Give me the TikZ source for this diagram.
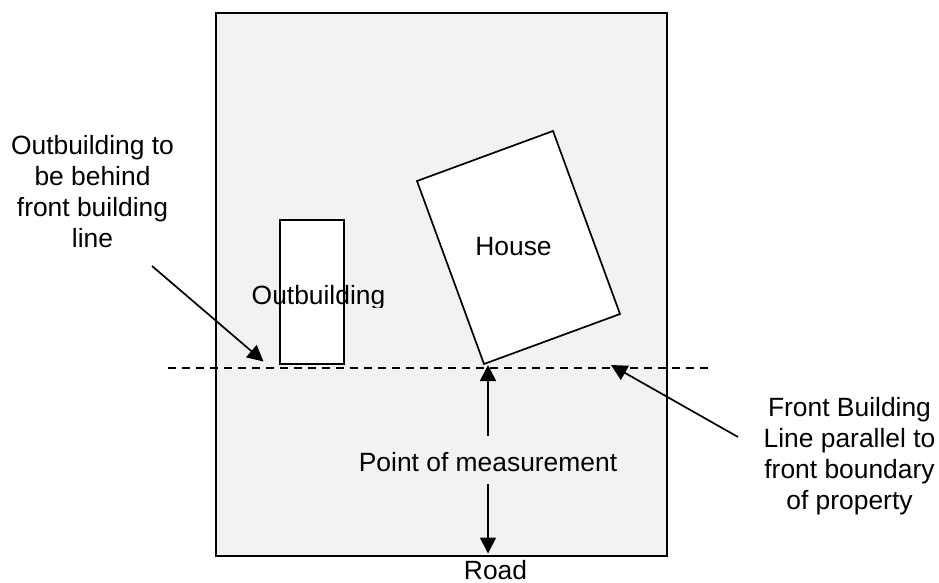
\documentclass[tikz,border=0pt]{standalone}
\usepackage{fontspec}
\setmainfont{Liberation Sans}
\usetikzlibrary{arrows.meta}
\definecolor{lot}{HTML}{F2F2F2}
\tikzset{
  x=1pt,y=-1pt,
  outline/.style={draw=black,line width=1.7pt},
  lead/.style={draw=black,line width=1.7pt,-{Triangle[width=16pt,length=16pt]}},
  frontline/.style={draw=black,line width=1.3pt,dash pattern=on 8pt off 6pt},
  lbl/.style={inner sep=0pt,font=\fontsize{26.4}{31}\selectfont,align=center,text=black}
}
\begin{document}
\begin{tikzpicture}
\useasboundingbox (0,0) rectangle (939,582);
\path[outline,fill=lot] (216,13) rectangle (667,556);
\coordinate (fl1) at (168,368);
\coordinate (fl2) at (710,368);
\path[frontline] (fl1) -- (fl2);
\path[outline,fill=white] (280,220) rectangle (344,364);
\path[outline,fill=white,line join=miter] (417,181) -- (553,131) -- (620,314) -- (484,364) -- cycle;
\node[lbl,anchor=base] (house) at (513.5,255) {House};
\begin{scope}
\clip (240,270) rectangle (400,307);
\node[lbl,anchor=base] (outb) at (318.5,304) {Outbuilding};
\end{scope}
\node[lbl] (behind) at (92.5,192) {Outbuilding to\\be behind\\front building\\line};
\node[lbl] (front) at (849.5,456.5) {Front Building\\Line parallel to\\front boundary\\of property};
\node[lbl,anchor=base] (pom) at (488,471) {Point of measurement};
\node[lbl,anchor=base] (road) at (495.5,579.5) {Road};
\coordinate (a1s) at (152,266);
\coordinate (a1e) at (263.5,361.5);
\coordinate (a2s) at (488,436);
\coordinate (a2e) at (488,365);
\coordinate (a3s) at (488,484);
\coordinate (a3e) at (488,553.5);
\coordinate (a4s) at (738,437);
\coordinate (a4e) at (611,365);
\path[lead] (a1s) -- (a1e);
\path[lead] (a2s) -- (a2e);
\path[lead] (a3s) -- (a3e);
\path[lead] (a4s) -- (a4e);
\end{tikzpicture}
\end{document}
